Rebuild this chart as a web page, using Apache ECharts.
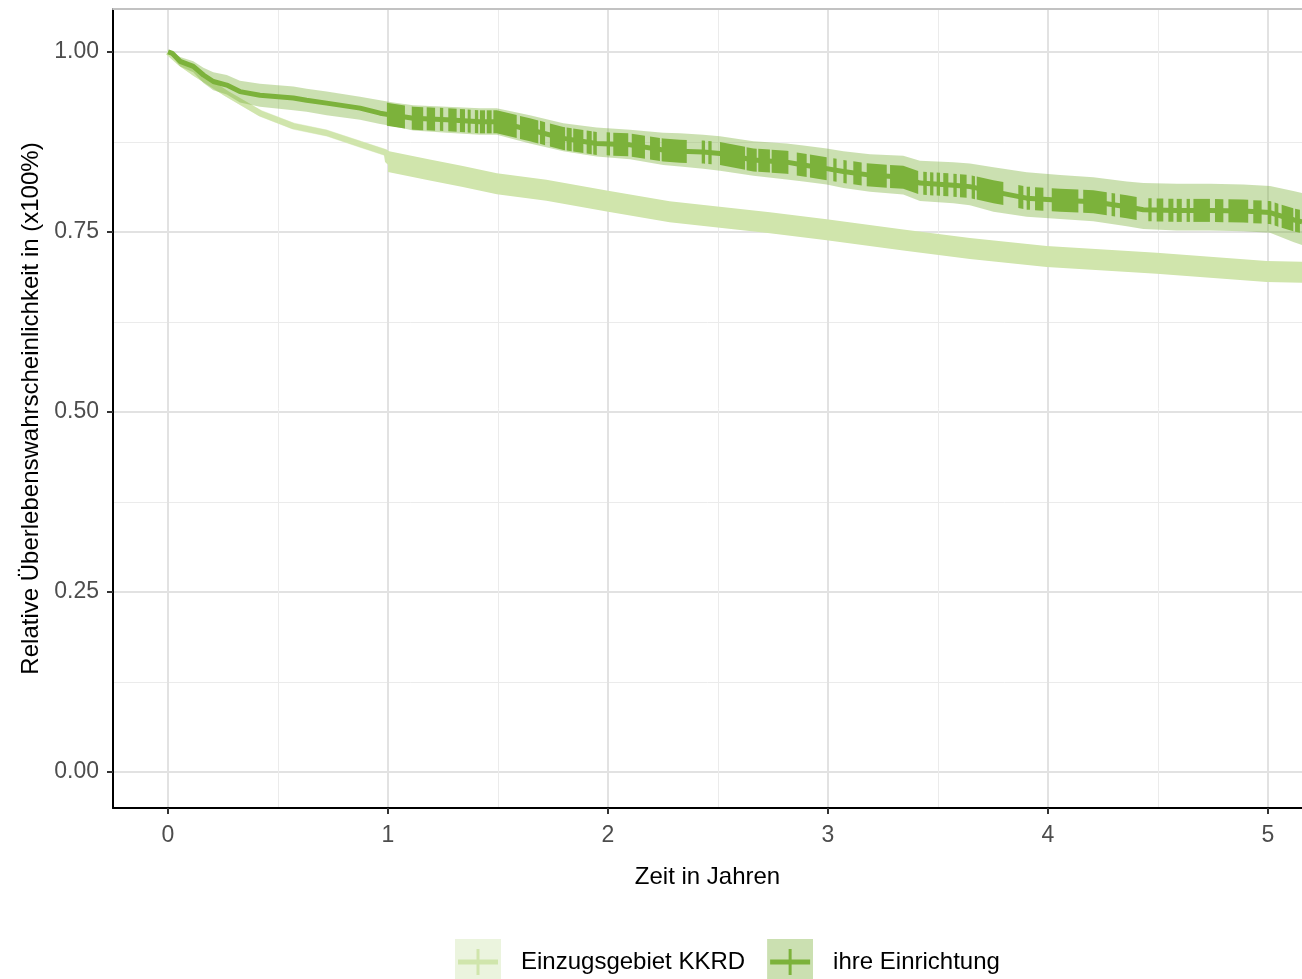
<!DOCTYPE html>
<html><head><meta charset="utf-8">
<script src="https://cdn.jsdelivr.net/npm/echarts@6/dist/echarts.min.js"></script>
<style>html,body{margin:0;padding:0;background:#fff}#c{width:1302px;height:979px}</style>
</head><body><div id="c"></div>
<script>
// ---- tick values ----
const xTicks = [0, 1, 2, 3, 4, 5];
const xMinorTicks = [0.5, 1.5, 2.5, 3.5, 4.5];
const yTicks = [0, 0.25, 0.5, 0.75, 1];
const yMinorTicks = [0.125, 0.375, 0.625, 0.875];
const seriesNames = ['Einzugsgebiet KKRD', 'ihre Einrichtung'];

// ---- Einzugsgebiet KKRD (light) ----
const kkrdTime  = [0, 0.055, 0.115, 0.176, 0.267, 0.418, 0.57, 0.721, 0.873, 0.994, 1.0, 1.19, 1.34, 1.495, 1.72, 1.994, 2.28, 2.736, 2.994, 3.342, 3.645, 3.994, 4.494, 4.994, 5.155];
const kkrdSurv  = [1.0, 0.985, 0.972, 0.960, 0.942, 0.915, 0.897, 0.8875, 0.872, 0.860, 0.848, 0.836, 0.827, 0.817, 0.808, 0.793, 0.778, 0.763, 0.753, 0.739, 0.727, 0.716, 0.7065, 0.695, 0.694];
const kkrdUpper = [1.0, 0.990, 0.977, 0.965, 0.947, 0.920, 0.902, 0.8925, 0.877, 0.865, 0.853, 0.841, 0.832, 0.822, 0.813, 0.798, 0.783, 0.768, 0.758, 0.744, 0.732, 0.721, 0.7115, 0.700, 0.699];
const kkrdLower = [1.0, 0.980, 0.967, 0.955, 0.937, 0.910, 0.892, 0.8825, 0.867, 0.855, 0.843, 0.831, 0.822, 0.812, 0.803, 0.788, 0.773, 0.758, 0.748, 0.734, 0.722, 0.711, 0.7015, 0.690, 0.689];
const kkrdCensorSpans = [[1.0, 5.155]];

// ---- ihre Einrichtung (dark) ----
const einrTime  = [0, 0.02, 0.055, 0.115, 0.161, 0.206, 0.267, 0.327, 0.418, 0.57, 0.63, 0.721, 0.873, 0.964, 1.024, 1.115, 1.267, 1.418, 1.494, 1.645, 1.797, 1.948, 2.1, 2.251, 2.327, 2.433, 2.509, 2.661, 2.812, 2.888, 2.994, 3.07, 3.191, 3.342, 3.418, 3.57, 3.645, 3.752, 3.903, 4.055, 4.206, 4.358, 4.433, 4.585, 4.736, 4.888, 5.009, 5.115, 5.155];
const einrSurv  = [1.0, 0.998, 0.987, 0.980, 0.968, 0.959, 0.954, 0.945, 0.940, 0.936, 0.933, 0.929, 0.922, 0.915, 0.912, 0.908, 0.906, 0.903, 0.903, 0.892, 0.880, 0.873, 0.871, 0.864, 0.862, 0.861, 0.859, 0.850, 0.847, 0.843, 0.838, 0.834, 0.829, 0.826, 0.818, 0.815, 0.813, 0.806, 0.797, 0.794, 0.792, 0.785, 0.781, 0.780, 0.780, 0.779, 0.777, 0.767, 0.764];
const einrUpper = [1.0, 1.0, 0.993, 0.987, 0.978, 0.972, 0.968, 0.960, 0.956, 0.952, 0.949, 0.945, 0.938, 0.933, 0.930, 0.926, 0.924, 0.922, 0.922, 0.912, 0.901, 0.895, 0.892, 0.888, 0.887, 0.885, 0.883, 0.876, 0.873, 0.870, 0.866, 0.862, 0.858, 0.856, 0.849, 0.847, 0.845, 0.840, 0.833, 0.829, 0.826, 0.820, 0.818, 0.817, 0.817, 0.816, 0.814, 0.807, 0.804];
const einrLower = [1.0, 0.994, 0.980, 0.972, 0.957, 0.947, 0.941, 0.930, 0.924, 0.919, 0.917, 0.912, 0.906, 0.900, 0.897, 0.891, 0.888, 0.885, 0.885, 0.873, 0.862, 0.855, 0.851, 0.843, 0.841, 0.838, 0.835, 0.828, 0.823, 0.820, 0.816, 0.811, 0.806, 0.802, 0.793, 0.790, 0.787, 0.778, 0.771, 0.768, 0.765, 0.758, 0.754, 0.752, 0.752, 0.751, 0.749, 0.736, 0.732];
const einrCensorSpans = [
  [0.995, 1.077], [1.108, 1.160], [1.176, 1.214], [1.236, 1.251], [1.274, 1.312], [1.327, 1.350],
  [1.365, 1.373], [1.395, 1.410], [1.418, 1.441], [1.449, 1.471], [1.479, 1.585], [1.600, 1.683],
  [1.691, 1.714], [1.736, 1.805], [1.812, 1.835], [1.842, 1.888], [1.903, 1.926], [1.933, 1.949],
  [1.994, 2.009], [2.024, 2.092], [2.108, 2.168], [2.191, 2.236], [2.244, 2.358], [2.426, 2.441],
  [2.456, 2.471], [2.509, 2.623], [2.630, 2.676], [2.683, 2.736], [2.744, 2.820], [2.858, 2.903],
  [2.918, 2.994], [3.024, 3.039], [3.070, 3.085], [3.115, 3.153], [3.176, 3.267], [3.282, 3.410],
  [3.433, 3.449], [3.464, 3.479], [3.494, 3.509], [3.524, 3.547], [3.570, 3.585], [3.600, 3.630],
  [3.653, 3.668], [3.676, 3.797], [3.865, 3.888], [3.903, 3.918], [3.941, 3.979], [4.017, 4.138],
  [4.160, 4.267], [4.289, 4.305], [4.327, 4.403], [4.456, 4.471], [4.494, 4.524], [4.547, 4.570],
  [4.585, 4.608], [4.630, 4.645], [4.661, 4.736], [4.759, 4.797], [4.820, 4.910], [4.933, 4.971],
  [4.999, 5.015], [5.030, 5.047], [5.062, 5.115], [5.123, 5.145]
];

// ---- styling ----
const FONT = '"Liberation Sans", Arial, sans-serif';
const lightColor = '#d0e5ac';
const lightBand = 'rgba(208,229,172,0.45)';
const darkColor = '#7cb23b';
const darkBand = 'rgba(124,178,59,0.4)';

function survAt(times, surv, t) {
  if (t <= times[0]) return surv[0];
  for (let i = 1; i < times.length; i++) {
    if (t <= times[i]) {
      const f = (t - times[i - 1]) / (times[i] - times[i - 1]);
      return surv[i - 1] + f * (surv[i] - surv[i - 1]);
    }
  }
  return surv[surv.length - 1];
}

function bandRender(times, lo, hi, color) {
  return function (params, api) {
    const pts = [];
    for (let i = 0; i < times.length; i++) pts.push(api.coord([times[i], hi[i]]));
    for (let i = times.length - 1; i >= 0; i--) pts.push(api.coord([times[i], lo[i]]));
    return { type: 'polygon', shape: { points: pts }, style: { fill: color } };
  };
}

function censorRender(times, surv, half, color) {
  return function (params, api) {
    const t0 = api.value(0), t1 = api.value(1);
    const ts = [t0];
    times.forEach(function (t) { if (t > t0 && t < t1) ts.push(t); });
    ts.push(t1);
    const top = [], bot = [];
    ts.forEach(function (t) {
      const p = api.coord([t, survAt(times, surv, t)]);
      top.push([p[0], p[1] - half]);
      bot.push([p[0], p[1] + half]);
    });
    const w = top[top.length - 1][0] - top[0][0];
    if (w < 3) {
      const d = (3 - w) / 2;
      top[0][0] -= d; bot[0][0] -= d;
      top[top.length - 1][0] += d; bot[bot.length - 1][0] += d;
    }
    return { type: 'polygon', shape: { points: top.concat(bot.reverse()) }, style: { fill: color } };
  };
}

function keyIcon(bg, fg) {
  const svg = "<svg xmlns='http://www.w3.org/2000/svg' width='46' height='46'>" +
    "<rect width='46' height='46' fill='" + bg + "'/>" +
    "<path d='M3 23H43' stroke='" + fg + "' stroke-width='5'/>" +
    "<path d='M23 10V36' stroke='" + fg + "' stroke-width='3'/></svg>";
  return 'image://data:image/svg+xml;charset=utf-8,' + encodeURIComponent(svg);
}

const chart = echarts.init(document.getElementById('c'), null, { renderer: 'canvas' });
chart.setOption({
  animation: false,
  backgroundColor: '#ffffff',
  textStyle: { fontFamily: FONT },
  grid: { left: 113, right: 0, top: 9, bottom: 171, containLabel: false, outerBoundsMode: 'none' },
  legend: {
    left: 450, top: 934, itemWidth: 46, itemHeight: 46, itemGap: 22, selectedMode: false,
    textStyle: { fontSize: 24, color: '#000', fontFamily: FONT, padding: [0, 0, 0, 15] },
    data: [
      { name: seriesNames[0], icon: keyIcon('#ebf4de', lightColor) },
      { name: seriesNames[1], icon: keyIcon('#cbe0b1', darkColor) }
    ]
  },
  xAxis: [
    {
      type: 'value', min: -0.25, max: 5.1545, position: 'bottom',
      name: 'Zeit in Jahren', nameLocation: 'middle', nameGap: 57,
      nameTextStyle: { color: '#000', fontSize: 24, fontFamily: FONT },
      axisLine: { show: true, onZero: false, lineStyle: { color: '#000', width: 2 } },
      axisTick: { show: true, customValues: xTicks, length: 6, lineStyle: { color: '#333', width: 2 } },
      axisLabel: { customValues: xTicks, color: '#4d4d4d', fontSize: 23, margin: 16, fontFamily: FONT,
        formatter: function (v) { return String(v); } },
      splitLine: { show: true, lineStyle: { color: '#e2e2e2', width: 2 } }
    },
    {
      type: 'value', min: -0.25, max: 5.1545, position: 'top',
      axisLine: { show: true, onZero: false, lineStyle: { color: '#c2c2c2', width: 2 } },
      axisTick: { show: false, customValues: xMinorTicks },
      axisLabel: { show: false, customValues: xMinorTicks },
      splitLine: { show: true, lineStyle: { color: '#ebebeb', width: 1 } }
    }
  ],
  yAxis: [
    {
      type: 'value', min: -0.05, max: 1.0597, position: 'left',
      name: 'Relative Überlebenswahrscheinlichkeit in (x100%)', nameLocation: 'middle', nameGap: 67, nameRotate: 90,
      nameTextStyle: { color: '#000', fontSize: 24, fontFamily: FONT },
      axisLine: { show: true, onZero: false, lineStyle: { color: '#000', width: 2 } },
      axisTick: { show: true, customValues: yTicks, length: 6, lineStyle: { color: '#333', width: 2 } },
      axisLabel: { customValues: yTicks, color: '#4d4d4d', fontSize: 23, margin: 14, fontFamily: FONT,
        formatter: function (v) { return v.toFixed(2); } },
      splitLine: { show: true, lineStyle: { color: '#e2e2e2', width: 2 } }
    },
    {
      type: 'value', min: -0.05, max: 1.0597, position: 'right',
      axisLine: { show: false },
      axisTick: { show: false, customValues: yMinorTicks },
      axisLabel: { show: false, customValues: yMinorTicks },
      splitLine: { show: true, lineStyle: { color: '#ebebeb', width: 1 } }
    }
  ],
  series: [
    { name: seriesNames[0], type: 'custom', data: [[0, 1]], silent: true, z: 2,
      itemStyle: { color: lightColor },
      renderItem: bandRender(kkrdTime, kkrdLower, kkrdUpper, lightBand) },
    { name: seriesNames[0], type: 'line', silent: true, z: 3, symbol: 'none',
      itemStyle: { color: lightColor },
      lineStyle: { color: lightColor, width: 6 },
      data: kkrdTime.map(function (t, i) { return [t, kkrdSurv[i]]; }) },
    { name: seriesNames[0], type: 'custom', silent: true, z: 4, data: kkrdCensorSpans,
      itemStyle: { color: lightColor },
      renderItem: censorRender(kkrdTime, kkrdSurv, 10.5, lightColor) },
    { name: seriesNames[1], type: 'custom', data: [[0, 1]], silent: true, z: 5,
      itemStyle: { color: darkColor },
      renderItem: bandRender(einrTime, einrLower, einrUpper, darkBand) },
    { name: seriesNames[1], type: 'line', silent: true, z: 6, symbol: 'none',
      itemStyle: { color: darkColor },
      lineStyle: { color: darkColor, width: 5 },
      data: einrTime.map(function (t, i) { return [t, einrSurv[i]]; }) },
    { name: seriesNames[1], type: 'custom', silent: true, z: 7, data: einrCensorSpans,
      itemStyle: { color: darkColor },
      renderItem: censorRender(einrTime, einrSurv, 11.5, darkColor) }
  ]
});
</script>
</body></html>
